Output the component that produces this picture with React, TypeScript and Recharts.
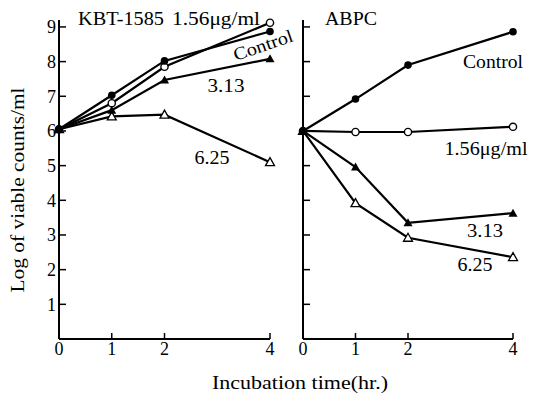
import { LineChart, Line, XAxis, YAxis } from 'recharts';

// Incubation time (hr.)
const hours = [0, 1, 2, 4];
const xTicks = [0, 1, 2, 4];
const yTicks = [1, 2, 3, 4, 5, 6, 7, 8, 9];

// KBT-1585 panel, log of viable counts/ml
const kbtControl = [6.05, 7.03, 8.02, 8.87];
const kbt156 = [6.05, 6.8, 7.85, 9.12];
const kbt313 = [6.05, 6.6, 7.47, 8.08];
const kbt625 = [6.05, 6.42, 6.47, 5.1];

// ABPC panel
const abpcControl = [6.0, 6.92, 7.9, 8.86];
const abpc156 = [6.0, 5.97, 5.97, 6.12];
const abpc313 = [6.0, 4.96, 3.35, 3.63];
const abpc625 = [6.0, 3.92, 2.92, 2.36];

const FONT = '"Liberation Serif", "DejaVu Serif", serif';

const build = (c: number[], a: number[], b: number[], d: number[]) =>
  hours.map((h, i) => ({ t: h, control: c[i], c156: a[i], c313: b[i], c625: d[i] }));

const kbtData = build(kbtControl, kbt156, kbt313, kbt625);
const abpcData = build(abpcControl, abpc156, abpc313, abpc625);

// marker shapes
function FilledCircle({ cx, cy }: any) {
  return <circle cx={cx} cy={cy} r={3.8} fill="#000" />;
}
function OpenCircle({ cx, cy }: any) {
  return <circle cx={cx} cy={cy} r={3.6} fill="#fff" stroke="#000" strokeWidth={1.4} />;
}
function FilledTriangle({ cx, cy }: any) {
  return <path d={`M${cx},${cy - 4.5} L${cx + 4.5},${cy + 3.5} L${cx - 4.5},${cy + 3.5} Z`} fill="#000" />;
}
function OpenTriangle({ cx, cy }: any) {
  return (
    <path
      d={`M${cx},${cy - 4.5} L${cx + 4.5},${cy + 3.5} L${cx - 4.5},${cy + 3.5} Z`}
      fill="#fff"
      stroke="#000"
      strokeWidth={1.3}
    />
  );
}

const tickStyle = { fill: '#000', fontSize: 18, fontFamily: FONT };

function Panel({ data, width, yAxisWidth, right, showY }: {
  data: any[];
  width: number;
  yAxisWidth: number;
  right: number;
  showY: boolean;
}) {
  const lineProps = { type: 'linear' as const, stroke: '#000', strokeWidth: 2.2, isAnimationActive: false };
  return (
    <LineChart width={width} height={397} data={data} margin={{ top: 20, right, bottom: 0, left: 0 }}>
      <XAxis
        dataKey="t"
        type="number"
        domain={[0, 4]}
        ticks={xTicks}
        height={58}
        tick={tickStyle}
        tickSize={-6}
        tickMargin={9}
        axisLine={{ stroke: '#000', strokeWidth: 2 }}
        tickLine={{ stroke: '#000', strokeWidth: 1.5 }}
      />
      <YAxis
        type="number"
        domain={[0, 9.2]}
        ticks={yTicks}
        width={yAxisWidth}
        tick={tickStyle}
        tickFormatter={(v) => (showY ? String(v) : '')}
        tickSize={-7}
        tickMargin={10}
        axisLine={{ stroke: '#000', strokeWidth: 2 }}
        tickLine={{ stroke: '#000', strokeWidth: 1.5 }}
      />
      <Line dataKey="c625" {...lineProps} dot={<OpenTriangle />} />
      <Line dataKey="c313" {...lineProps} dot={<FilledTriangle />} />
      <Line dataKey="c156" {...lineProps} dot={<OpenCircle />} />
      <Line dataKey="control" {...lineProps} dot={<FilledCircle />} />
    </LineChart>
  );
}

function Note({ x, y, len, children, size = 18, rotate = 0 }: any) {
  return (
    <text
      x={x}
      y={y}
      textAnchor="middle"
      fontFamily={FONT}
      fontSize={size}
      fill="#000"
      textLength={len}
      lengthAdjust="spacingAndGlyphs"
      transform={rotate ? `rotate(${rotate} ${x} ${y})` : undefined}
    >
      {children}
    </text>
  );
}

export default function App() {
  return (
    <div style={{ position: 'relative', width: 539, height: 397, background: '#fff' }}>
      <style>{'body{margin:0}'}</style>
      <div style={{ position: 'absolute', left: 0, top: 0 }}>
        <Panel data={kbtData} width={285} yAxisWidth={59} right={15} showY />
      </div>
      <div style={{ position: 'absolute', left: 285, top: 0 }}>
        <Panel data={abpcData} width={254} yAxisWidth={18} right={26} showY={false} />
      </div>
      <svg width={539} height={397} style={{ position: 'absolute', left: 0, top: 0, pointerEvents: 'none' }}>
        <Note x={121} y={25} len={86} size={19}>KBT-1585</Note>
        <Note x={216} y={25} len={88} size={19}>1.56μg/ml</Note>
        <Note x={265} y={51} len={62} rotate={-19}>Control</Note>
        <Note x={226} y={92} len={37} size={19}>3.13</Note>
        <Note x={212} y={164} len={35} size={19}>6.25</Note>
        <Note x={351} y={25} len={52} size={19}>ABPC</Note>
        <Note x={493} y={68} len={60}>Control</Note>
        <Note x={486} y={155} len={83}>1.56μg/ml</Note>
        <Note x={485} y={237} len={36} size={19}>3.13</Note>
        <Note x={475} y={271} len={35} size={19}>6.25</Note>
        <Note x={300} y={389} len={176}>Incubation time(hr.)</Note>
        <Note x={24} y={190} len={205} rotate={-90}>Log of viable counts/ml</Note>
      </svg>
    </div>
  );
}
